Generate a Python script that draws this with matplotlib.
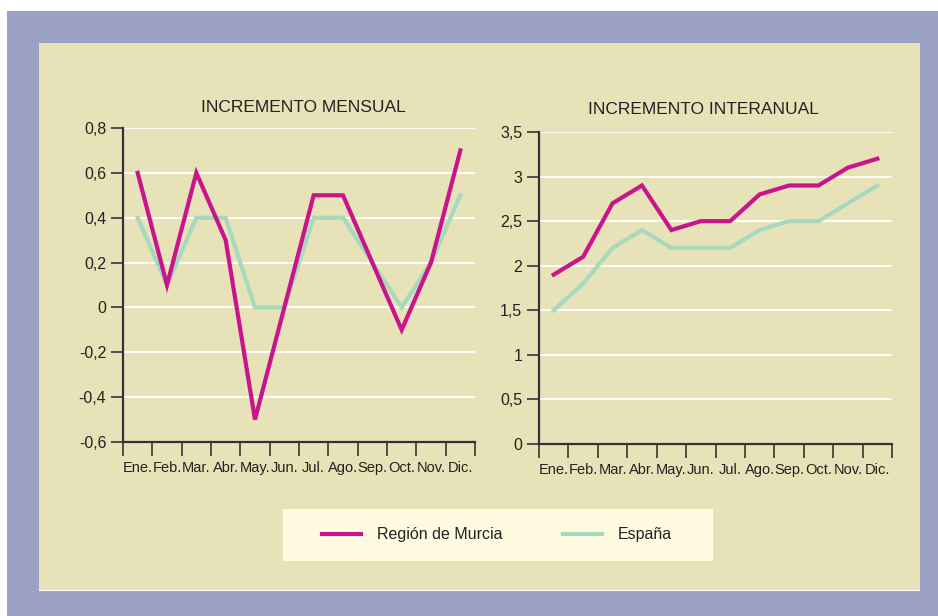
import matplotlib.pyplot as plt
from matplotlib.patches import Rectangle
from matplotlib.lines import Line2D

plt.rcParams['font.family'] = ['Liberation Sans', 'DejaVu Sans']

meses = ["Ene.", "Feb.", "Mar.", "Abr.", "May.", "Jun.", "Jul.", "Ago.", "Sep.", "Oct.", "Nov.", "Dic."]
murcia_mensual = [0.6, 0.1, 0.6, 0.3, -0.5, 0.0, 0.5, 0.5, 0.2, -0.1, 0.2, 0.7]
espana_mensual = [0.4, 0.1, 0.4, 0.4, 0.0, 0.0, 0.4, 0.4, 0.2, 0.0, 0.2, 0.5]
murcia_interanual = [1.9, 2.1, 2.7, 2.9, 2.4, 2.5, 2.5, 2.8, 2.9, 2.9, 3.1, 3.2]
espana_interanual = [1.5, 1.8, 2.2, 2.4, 2.2, 2.2, 2.2, 2.4, 2.5, 2.5, 2.7, 2.9]
ticks_mensual = [-0.6, -0.4, -0.2, 0, 0.2, 0.4, 0.6, 0.8]
ticks_interanual = [0, 0.5, 1, 1.5, 2, 2.5, 3, 3.5]

W, H = 938, 616
MAGENTA = "#C8158C"
VERDE = "#A6D9BE"
BEIGE = "#E8E2B8"
AZUL = "#9BA2C6"
EJE = "#333333"

fig = plt.figure(figsize=(W / 100, H / 100), dpi=100)
fig.patch.set_facecolor("white")

def px(x, y, w, h):
    # pixel box (top-left origin) -> figure fraction
    return [x / W, 1 - (y + h) / H, w / W, h / H]

def rect(x, y, w, h, color, z=0):
    r = Rectangle((x / W, 1 - (y + h) / H), w / W, h / H, transform=fig.transFigure,
                  facecolor=color, edgecolor="none", zorder=z)
    fig.patches.append(r)

rect(7, 11, 931, 605, AZUL)
rect(39, 43, 881, 548, "white", 1)
rect(39, 43, 881, 547, BEIGE, 2)
rect(283, 509, 430, 52, "#FEFBE0", 3)

def fmt(v):
    s = ("%g" % v).replace(".", ",")
    return s

def panel(box, y1, y2, ticks, serie_m, serie_e, titulo, tx, ty):
    ax = fig.add_axes(px(*box))
    ax.set_zorder(10)
    ax.set_facecolor("none")
    ax.set_xlim(0, 12)
    ax.set_ylim(y1, y2)
    for t in ticks:
        ax.axhline(t, color="white", lw=1.3, zorder=1)
    x = [i + 0.5 for i in range(12)]
    ax.plot(x, serie_e, color=VERDE, lw=3, zorder=3, solid_joinstyle="miter")
    ax.plot(x, serie_m, color=MAGENTA, lw=3, zorder=4, solid_joinstyle="miter")
    for s in ["top", "right"]:
        ax.spines[s].set_visible(False)
    for s in ["left", "bottom"]:
        ax.spines[s].set_color(EJE)
        ax.spines[s].set_linewidth(1.6)
    ax.set_yticks(ticks)
    ax.set_yticklabels([fmt(t) for t in ticks])
    ax.set_xticks(range(13))
    ax.set_xticklabels([])
    ax.set_xticks(x, minor=True)
    ax.set_xticklabels(meses, minor=True)
    ax.tick_params(axis="y", length=9, width=1.2, color=EJE, labelsize=11.5, labelcolor="#222222", pad=3)
    ax.tick_params(axis="x", which="major", length=10, width=1.2, color=EJE)
    ax.tick_params(axis="x", which="minor", length=0, labelsize=10.5, labelcolor="#222222", pad=14)
    fig.text(tx / W, 1 - ty / H, titulo, ha="center", va="center", fontsize=12.5, color="#222222")
    return ax

panel((123, 128, 352, 314), -0.6, 0.8, ticks_mensual, murcia_mensual, espana_mensual,
      "INCREMENTO MENSUAL", 303, 108)
panel((539, 132, 353, 312), 0, 3.5, ticks_interanual, murcia_interanual, espana_interanual,
      "INCREMENTO INTERANUAL", 703, 110)

# leyenda
fig.lines.append(Line2D([322 / W, 361 / W], [1 - 534 / H] * 2, transform=fig.transFigure,
                        color=MAGENTA, lw=3, zorder=5))
fig.text(377 / W, 1 - 535 / H, "Región de Murcia", ha="left", va="center", fontsize=11.5, color="#222222")
fig.lines.append(Line2D([563 / W, 602 / W], [1 - 534 / H] * 2, transform=fig.transFigure,
                        color=VERDE, lw=3, zorder=5))
fig.text(618 / W, 1 - 535 / H, "España", ha="left", va="center", fontsize=11.5, color="#222222")

fig.savefig("out.png", dpi=100)
